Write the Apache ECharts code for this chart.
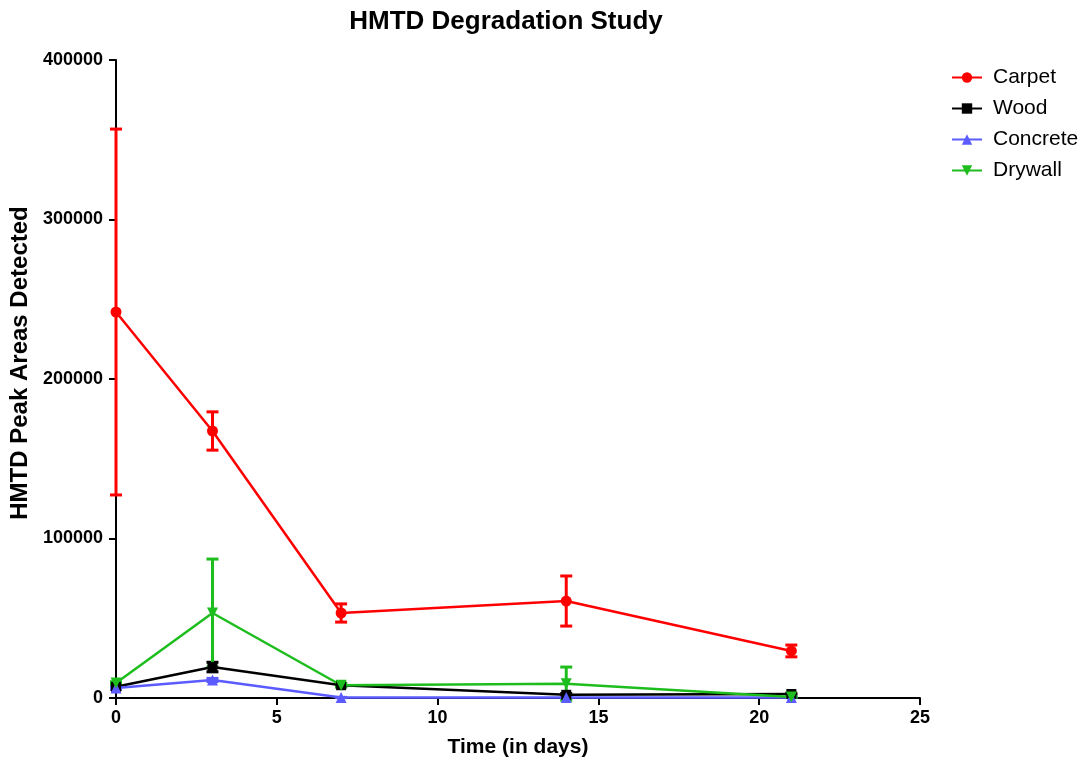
<!DOCTYPE html>
<html>
<head>
<meta charset="utf-8">
<script src="https://cdn.jsdelivr.net/npm/echarts@6/dist/echarts.min.js"></script>
<style>html,body{margin:0;padding:0;background:#fff}#c{width:1083px;height:768px}</style>
</head>
<body>
<div id="c"></div>
<script>
var days = [0, 3, 7, 14, 21];
var carpet = [242000, 167400, 53300, 60800, 29500];
var carpetErr = [114700, 12000, 5700, 15700, 3700];
var wood = [7000, 19400, 8000, 2000, 2500];
var woodErr = [1500, 3000, 1000, 800, 500];
var concrete = [6300, 11300, 300, 300, 300];
var concreteErr = [500, 1000, 100, 100, 100];
var drywall = [9400, 53300, 8000, 9000, 600];
var drywallErr = [800, 33800, 1000, 10400, 300];

var names = ['Carpet', 'Wood', 'Concrete', 'Drywall'];
var colors = ['#ff0000', '#000000', '#5b5bff', '#1ebd1e'];
var symbols = ['circle', 'rect', 'triangle', 'triangle'];
var rotates = [0, 0, 0, 180];
var values = [carpet, wood, concrete, drywall];
var errs = [carpetErr, woodErr, concreteErr, drywallErr];

var font = 'Liberation Sans';
var series = [];
names.forEach(function (n, i) {
  series.push({
    name: n + ' err',
    type: 'custom',
    z: 2,
    data: days.map(function (d, k) { return [d, values[i][k], errs[i][k]]; }),
    renderItem: function (params, api) {
      var x = api.value(0), y = api.value(1), e = api.value(2);
      var top = api.coord([x, y + e]);
      var bot = api.coord([x, y - e]);
      var hw = 6;
      var st = { stroke: colors[i], lineWidth: 3 };
      return {
        type: 'group',
        children: [
          { type: 'line', shape: { x1: top[0], y1: top[1], x2: bot[0], y2: bot[1] }, style: st },
          { type: 'line', shape: { x1: top[0] - hw, y1: top[1], x2: top[0] + hw, y2: top[1] }, style: st },
          { type: 'line', shape: { x1: bot[0] - hw, y1: bot[1], x2: bot[0] + hw, y2: bot[1] }, style: st }
        ]
      };
    },
    silent: true
  });
  series.push({
    name: n,
    type: 'line',
    z: 3,
    data: days.map(function (d, k) { return [d, values[i][k]]; }),
    symbol: symbols[i],
    symbolRotate: rotates[i],
    symbolSize: i === 1 ? 10 : 11,
    showAllSymbol: true,
    lineStyle: { color: colors[i], width: 2.5 },
    itemStyle: { color: colors[i] },
    animation: false
  });
});

var chart = echarts.init(document.getElementById('c'), null, { renderer: 'canvas' });
chart.setOption({
  animation: false,
  backgroundColor: '#fff',
  title: {
    text: 'HMTD Degradation Study',
    left: 501, top: 4, textAlign: 'center',
    textStyle: { fontFamily: font, fontWeight: 'bold', fontSize: 26, color: '#000' }
  },
  legend: {
    data: names,
    orient: 'vertical',
    left: 946, top: 62,
    itemWidth: 30, itemHeight: 13, itemGap: 10,
    textStyle: { fontFamily: font, fontSize: 21, color: '#000', padding: [0, 0, 0, 6] }
  },
  grid: { left: 116, right: 163, top: 60, bottom: 70, containLabel: false },
  xAxis: {
    type: 'value', min: 0, max: 25, interval: 5,
    name: 'Time (in days)', nameLocation: 'middle', nameGap: 39,
    nameTextStyle: { fontFamily: font, fontWeight: 'bold', fontSize: 21, color: '#000' },
    axisLine: { lineStyle: { color: '#000', width: 2 } },
    axisTick: { lineStyle: { color: '#000', width: 2 }, length: 7 },
    axisLabel: { fontFamily: font, fontWeight: 'bold', fontSize: 18, color: '#000', margin: 11 },
    splitLine: { show: false }
  },
  yAxis: {
    type: 'value', min: 0, max: 400000, interval: 100000,
    name: 'HMTD Peak Areas Detected', nameLocation: 'middle', nameGap: 84,
    nameTextStyle: { fontFamily: font, fontWeight: 'bold', fontSize: 24, color: '#000', padding: [0, 0, 0, 32] },
    axisLine: { lineStyle: { color: '#000', width: 2 } },
    axisTick: { lineStyle: { color: '#000', width: 2 }, length: 7 },
    axisLabel: { fontFamily: font, fontWeight: 'bold', fontSize: 18, color: '#000', margin: 13,
      formatter: function (v) { return String(v); } },
    splitLine: { show: false }
  },
  series: series
});
</script>
</body>
</html>
